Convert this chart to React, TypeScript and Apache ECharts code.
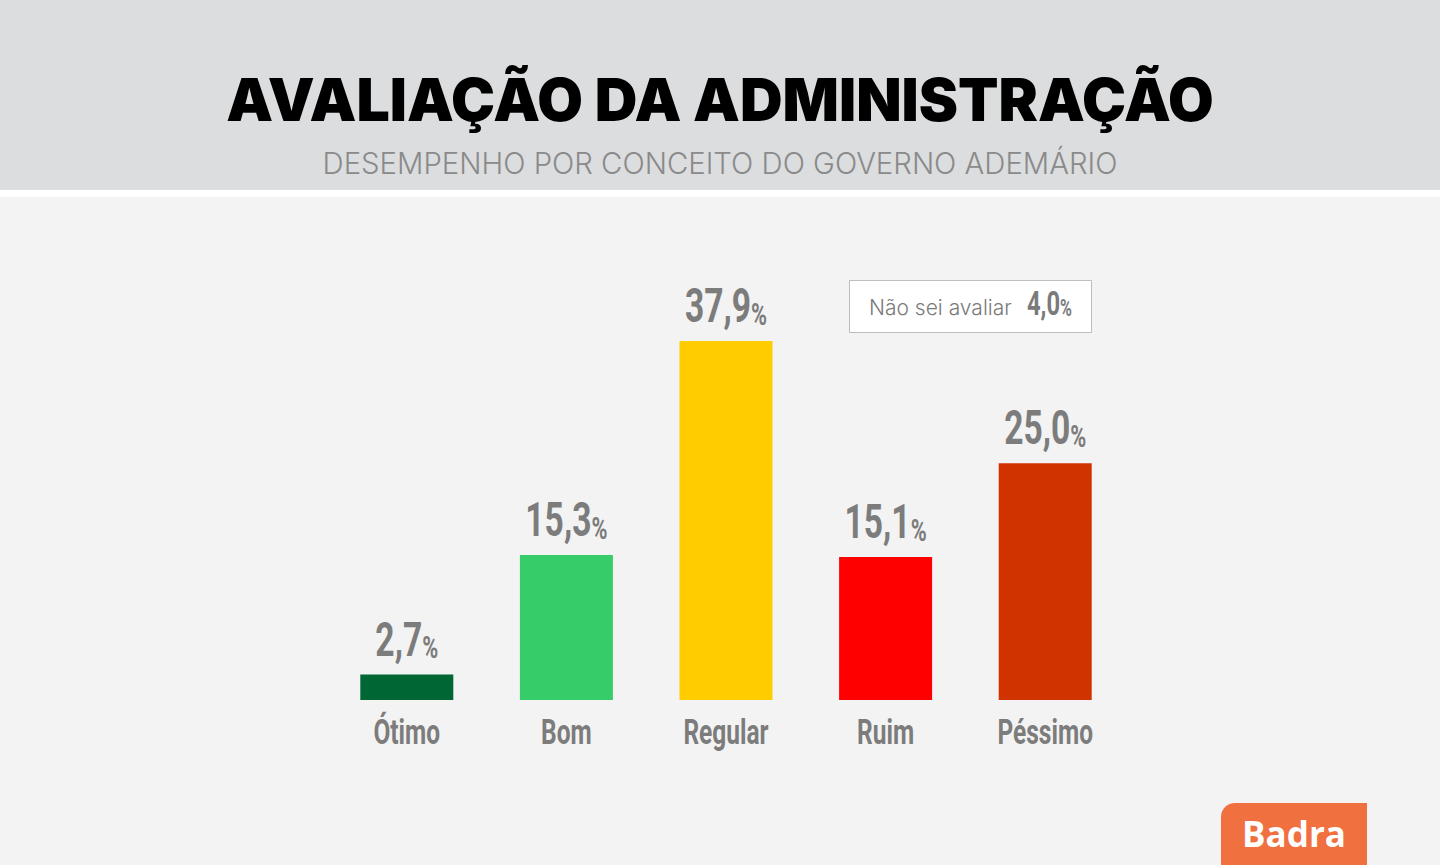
import React, { useEffect, useRef } from "react";
import * as echarts from "echarts";

const categories = ["Ótimo", "Bom", "Regular", "Ruim", "Péssimo"];
const values = [2.7, 15.3, 37.9, 15.1, 25.0];
const colors = ["#006633", "#36cc6a", "#ffcc00", "#ff0000", "#d13300"];
const naoSeiLabel = "Não sei avaliar";
const naoSeiValue = 4.0;

const title = "AVALIAÇÃO DA ADMINISTRAÇÃO";
const subtitle = "DESEMPENHO POR CONCEITO DO GOVERNO ADEMÁRIO";

const fmt = (v: number) => v.toFixed(1).replace(".", ",");
const NARROW = "Roboto, 'Noto Sans', sans-serif";
const GRAY = "#7c7c7c";
const SQUEEZE = 0.7;

export default function App() {
  const ref = useRef<HTMLDivElement>(null);
  useEffect(() => {
    document.body.style.margin = "0";
    const chart = echarts.init(ref.current!, undefined, { renderer: "svg" });
    chart.setOption({
      animation: false,
      backgroundColor: "#f3f3f3",
      grid: { left: 327, width: 798, top: 321, height: 379 },
      xAxis: {
        type: "category",
        data: categories,
        axisLine: { show: false },
        axisTick: { show: false },
        axisLabel: { show: false },
      },
      yAxis: {
        type: "value",
        min: 0,
        max: 40,
        show: false,
        splitLine: { show: false },
      },
      graphic: [
        { type: "rect", shape: { x: 0, y: 0, width: 1440, height: 190 }, style: { fill: "#dcdddf" }, z: -10 },
        { type: "rect", shape: { x: 0, y: 190, width: 1440, height: 7 }, style: { fill: "#ffffff" }, z: -10 },
        {
          type: "text",
          x: 720,
          y: 99,
          style: {
            text: title,
            fill: "#000000",
            font: "900 59px Inter, 'DejaVu Sans', sans-serif",
            align: "center",
            verticalAlign: "middle",
          },
        },
        {
          type: "text",
          x: 720,
          y: 163,
          style: {
            text: subtitle,
            fill: "#8a8a8a",
            font: "300 29.3px Inter, 'DejaVu Sans', sans-serif",
            align: "center",
            verticalAlign: "middle",
          },
        },
        {
          type: "rect",
          shape: { x: 849.5, y: 280.5, width: 242, height: 52 },
          style: { fill: "#ffffff", stroke: "#bdbdbd", lineWidth: 1 },
        },
        {
          type: "text",
          x: 869,
          y: 307,
          style: {
            text: naoSeiLabel,
            fill: "#7a7a7a",
            font: "300 21px Inter, 'Open Sans', sans-serif",
            verticalAlign: "middle",
          },
        },
        {
          type: "text",
          x: 1072,
          y: 320,
          scaleX: SQUEEZE,
          style: {
            text: "{v|" + fmt(naoSeiValue) + "}{p|%}",
            align: "right",
            verticalAlign: "bottom",
            rich: {
              v: { fontFamily: NARROW, fontWeight: "bold", fontSize: 34, fill: "#7a7a7a", verticalAlign: "bottom", lineHeight: 34 },
              p: { fontFamily: NARROW, fontWeight: "bold", fontSize: 23, fill: "#7a7a7a", verticalAlign: "bottom", lineHeight: 27 },
            },
          },
        },
        {
          type: "rect",
          shape: { x: 1221, y: 803, width: 146, height: 70, r: [14, 0, 0, 0] },
          style: { fill: "#f07040" },
        },
        {
          type: "text",
          x: 1294,
          y: 833,
          style: {
            text: "Badra",
            fill: "#ffffff",
            font: "bold 35px 'Open Sans', Inter, sans-serif",
            align: "center",
            verticalAlign: "middle",
          },
        },
      ],
      series: [
        {
          type: "bar",
          barWidth: 93,
          data: values.map((v, i) => ({ value: v, itemStyle: { color: colors[i] } })),
        },
        {
          type: "custom",
          z: 10,
          data: values.map((v, i) => [i, v]),
          renderItem: (params: any, api: any) => {
            const i = api.value(0);
            const v = api.value(1);
            const top = api.coord([i, v]);
            const base = api.coord([i, 0]);
            return {
              type: "group",
              children: [
                {
                  type: "text",
                  x: top[0],
                  y: top[1] - 11,
                  scaleX: SQUEEZE,
                  style: {
                    text: "{v|" + fmt(v) + "}{p|%}",
                    align: "center",
                    verticalAlign: "bottom",
                    rich: {
                      v: { fontFamily: NARROW, fontWeight: "bold", fontSize: 48, fill: GRAY, verticalAlign: "bottom", lineHeight: 48 },
                      p: { fontFamily: NARROW, fontWeight: "bold", fontSize: 31, fill: GRAY, verticalAlign: "bottom", lineHeight: 36 },
                    },
                  },
                },
                {
                  type: "text",
                  x: base[0],
                  y: base[1] + 14,
                  scaleX: SQUEEZE,
                  style: {
                    text: categories[i],
                    fill: GRAY,
                    font: "bold 35px " + NARROW,
                    align: "center",
                    verticalAlign: "top",
                  },
                },
              ],
            };
          },
        },
      ],
    });
    return () => chart.dispose();
  }, []);
  return <div ref={ref} style={{ width: 1440, height: 865 }} />;
}
